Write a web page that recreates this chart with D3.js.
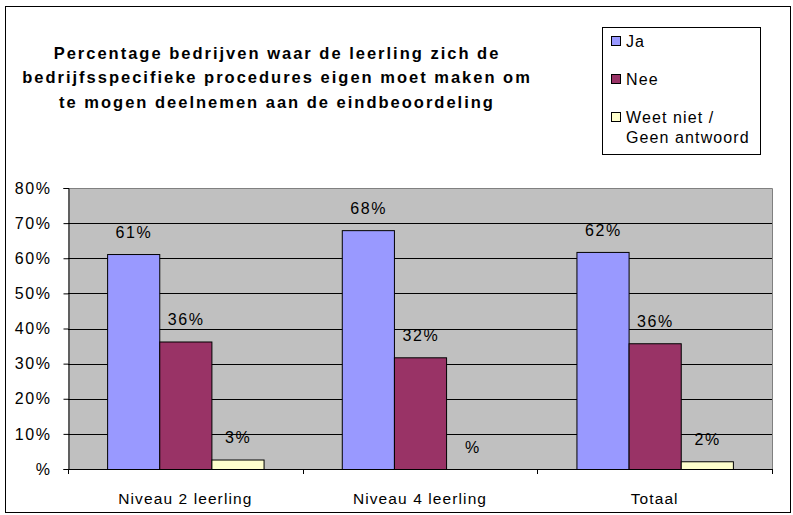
<!DOCTYPE html>
<html>
<head>
<meta charset="utf-8">
<script src="https://cdn.jsdelivr.net/npm/d3@7"></script>
<style>
  body { margin: 0; background: #fff; }
  svg { display: block; }
  svg text { font-family: "Liberation Sans", Arial, sans-serif; }
</style>
</head>
<body>
<svg id="chart" width="793" height="515"></svg>
<script>
const titleLines = [
  "Percentage bedrijven waar de leerling zich de",
  "bedrijfsspecifieke procedures eigen moet maken om",
  "te mogen deelnemen aan de eindbeoordeling"
];
const categories = ["Niveau 2 leerling", "Niveau 4 leerling", "Totaal"];
const seriesNames = ["Ja", "Nee", "Weet niet /|Geen antwoord"];
const seriesColors = ["#9999FF", "#993366", "#FFFFCC"];
const ja = [0.612, 0.68, 0.618];
const nee = [0.363, 0.318, 0.358];
const weetNiet = [0.027, 0, 0.022];
const yTicks = [0, 0.1, 0.2, 0.3, 0.4, 0.5, 0.6, 0.7, 0.8];

const series = [ja, nee, weetNiet];
const svg = d3.select("#chart");
const FONT = "'Liberation Sans', Arial, sans-serif";

// outer frame
svg.append("rect")
  .attr("x", 5.5).attr("y", 6.5)
  .attr("width", 785).attr("height", 506)
  .attr("fill", "none").attr("stroke", "#000");

const plot = { left: 68, right: 772, top: 188, bottom: 469 };

const x = d3.scaleBand().domain(categories).range([plot.left, plot.right]);
// excel style: gap width 150% -> bar = band / 4.5
const gap = x.bandwidth() * 0.75 / 4.5;
const x1 = d3.scaleBand().domain(d3.range(series.length))
  .range([gap, x.bandwidth() - gap]).padding(0);
const y = d3.scaleLinear().domain([0, 0.8]).range([plot.bottom, plot.top]);

// plot background
svg.append("rect")
  .attr("x", plot.left).attr("y", plot.top)
  .attr("width", plot.right - plot.left).attr("height", plot.bottom - plot.top)
  .attr("fill", "#C0C0C0");

// gridlines
svg.append("g").selectAll("line")
  .data(yTicks.filter(d => d > 0 && d < 0.8))
  .join("line")
  .attr("x1", plot.left).attr("x2", plot.right)
  .attr("y1", d => Math.round(y(d)) + 0.5).attr("y2", d => Math.round(y(d)) + 0.5)
  .attr("stroke", "#000");

// plot border top/right
svg.append("path")
  .attr("d", `M${plot.left},${plot.top + 0.5}H${plot.right + 0.5}V${plot.bottom}`)
  .attr("fill", "none").attr("stroke", "#808080");

// bars
const groups = svg.append("g").selectAll("g")
  .data(categories)
  .join("g")
  .attr("transform", d => `translate(${x(d)},0)`);

groups.selectAll("rect")
  .data((c, i) => series.map((s, k) => ({ k, v: s[i] })))
  .join("rect")
  .attr("x", d => x1(d.k) + 0.5)
  .attr("y", d => y(d.v) + 0.5)
  .attr("width", x1.bandwidth())
  .attr("height", d => Math.max(0, y(0) - y(d.v)))
  .attr("fill", d => seriesColors[d.k])
  .attr("stroke", "#000")
  .attr("display", d => d.v > 0 ? null : "none");

// value labels
const fmt = v => Math.round(v * 100) === 0 ? "%" : Math.round(v * 100) + "%";
groups.selectAll("text")
  .data((c, i) => series.map((s, k) => ({ k, v: s[i] })))
  .join("text")
  .attr("x", d => x1(d.k) + x1.bandwidth() / 2 + 0.8)
  .attr("y", d => y(d.v) - 22)
  .attr("dy", "0.35em")
  .attr("text-anchor", "middle")
  .attr("font-size", 16)
  .attr("letter-spacing", 1.6)
  .text(d => fmt(d.v));

// y axis
const yAxis = svg.append("g")
  .attr("transform", `translate(${plot.left + 0.5},0)`)
  .call(d3.axisLeft(y).tickValues(yTicks).tickSize(5).tickPadding(12)
    .tickFormat(d => d === 0 ? "%" : Math.round(d * 100) + "%"));
yAxis.attr("font-family", FONT);
yAxis.select(".domain").attr("stroke", "#000");
yAxis.selectAll("text").attr("font-size", 16).attr("letter-spacing", 1.6)
  .attr("fill", "#000");

// x axis
const xAxis = svg.append("g")
  .attr("transform", `translate(0,${plot.bottom + 0.5})`)
  .call(d3.axisBottom(x).tickSize(0));
xAxis.attr("font-family", FONT);
xAxis.select(".domain").attr("stroke", "#000").attr("d", `M${plot.left},0H${plot.right + 0.5}`);
xAxis.selectAll("text").attr("font-size", 15.5).attr("letter-spacing", 1.1)
  .attr("fill", "#000").attr("dy", "0.35em").attr("y", 29);
// category separators
svg.append("g").selectAll("line")
  .data(categories.map(c => x(c)).concat([x.range()[1]]))
  .join("line")
  .attr("x1", d => Math.round(d) + 0.5).attr("x2", d => Math.round(d) + 0.5)
  .attr("y1", plot.bottom).attr("y2", plot.bottom + 5)
  .attr("stroke", "#000");

// title
svg.append("text")
  .attr("x", 277).attr("y", 53)
  .attr("text-anchor", "middle")
  .attr("font-size", 16.5).attr("font-weight", "bold").attr("letter-spacing", 2)
  .selectAll("tspan")
  .data(titleLines)
  .join("tspan")
  .attr("x", 277)
  .attr("dy", (d, i) => i === 0 ? "0.35em" : 24.5)
  .text(d => d);

// legend
const legend = svg.append("g");
legend.append("rect")
  .attr("x", 602.5).attr("y", 27.5).attr("width", 158).attr("height", 127)
  .attr("fill", "#fff").attr("stroke", "#000");
const legendY = [41, 79, 117];
const items = legend.selectAll("g.item")
  .data(seriesNames)
  .join("g").attr("class", "item")
  .attr("transform", (d, i) => `translate(0,${legendY[i]})`);
items.append("rect")
  .attr("x", 611.5).attr("y", -4.5).attr("width", 9).attr("height", 9)
  .attr("fill", (d, i) => seriesColors[i]).attr("stroke", "#000");
items.append("text")
  .attr("font-size", 16).attr("letter-spacing", 1.1)
  .selectAll("tspan")
  .data(d => d.split("|"))
  .join("tspan")
  .attr("x", 626)
  .attr("y", (d, i) => i * 20)
  .attr("dy", "0.35em")
  .text(d => d);
</script>
</body>
</html>
